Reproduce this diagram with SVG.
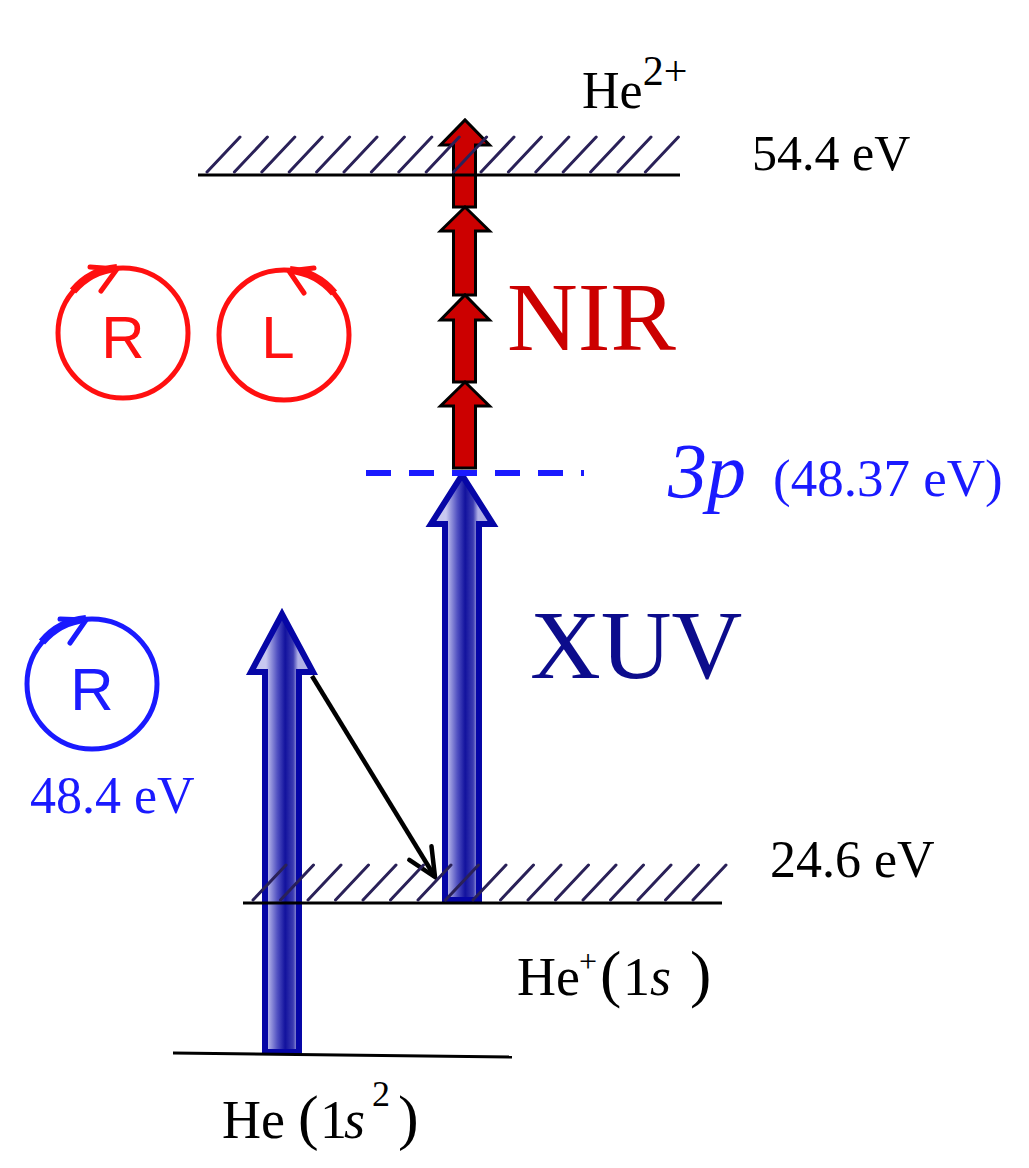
<svg xmlns="http://www.w3.org/2000/svg" width="1029" height="1168" viewBox="0 0 1029 1168">
<style>
.lvl{stroke:#000;stroke-width:3;fill:none}
.hatch{stroke:#2a2158;stroke-width:3;fill:none;stroke-linecap:round}
.xuv{stroke:#0606a6;stroke-width:6;stroke-linejoin:miter}
.nir{fill:#cc0000;stroke:#000;stroke-width:3;stroke-linejoin:miter}
.serif{font-family:"Liberation Serif","Times New Roman",serif}
.sans{font-family:"Liberation Sans",Arial,sans-serif}
.polred{fill:none;stroke:#ff1010}
.polblue{fill:none;stroke:#1a1aff}
.blue{fill:#1a1aff}
</style>
<defs>
<linearGradient id="gL" gradientUnits="userSpaceOnUse" x1="266" y1="0" x2="298" y2="0">
<stop offset="0" stop-color="#c8c8f0"/>
<stop offset="0.35" stop-color="#5252c2"/>
<stop offset="0.6" stop-color="#12129e"/>
<stop offset="0.85" stop-color="#3c3cb2"/>
<stop offset="1" stop-color="#b0b0e6"/>
</linearGradient>
<linearGradient id="gR" href="#gL" gradientUnits="userSpaceOnUse" x1="446" y1="0" x2="478" y2="0"/>
<marker id="vhead" markerUnits="userSpaceOnUse" viewBox="0 0 34 34" refX="31" refY="17" markerWidth="34" markerHeight="34" orient="auto">
<path d="M3,4 L31,17 L3,30" fill="none" stroke="#000" stroke-width="4.5" stroke-linecap="round"/>
</marker>
</defs>
<rect width="1029" height="1168" fill="#fff"/>

<g id="connectors">
<path id="xuv-left" class="xuv" fill="url(#gL)" d="M265,1052 L265,672 L251,672 L282,614 L313,672 L299,672 L299,1052 Z"/>
<path id="xuv-right" class="xuv" fill="url(#gR)" d="M445,900 L445,524 L431,524 L462,475 L493,524 L479,524 L479,900 Z"/>
<g id="nir-arrows">
<path class="nir" d="M453.5,207 L453.5,145 L440.5,145 L465,120 L489.5,145 L475.5,145 L475.5,207 Z"/>
<path class="nir" d="M453.5,295 L453.5,231 L440.5,231 L465,207 L489.5,231 L475.5,231 L475.5,295 Z"/>
<path class="nir" d="M453.5,382 L453.5,320 L440.5,320 L465,295 L489.5,320 L475.5,320 L475.5,382 Z"/>
<path class="nir" d="M453.5,468 L453.5,406 L440.5,406 L465,382 L489.5,406 L475.5,406 L475.5,468 Z"/>
</g>
<line id="decay-arrow" x1="312" y1="676" x2="435" y2="877" stroke="#000" stroke-width="4.5" marker-end="url(#vhead)"/>
</g>

<g id="level-He2plus">
<line class="lvl" x1="198" y1="175" x2="680" y2="175"/>
<path class="hatch" d="M207,172l33,-35M234.4,172l33,-35M261.8,172l33,-35M289.2,172l33,-35M316.6,172l33,-35M344,172l33,-35M371.4,172l33,-35M398.8,172l33,-35M426.2,172l33,-35M453.6,172l33,-35M481,172l33,-35M508.4,172l33,-35M535.8,172l33,-35M563.2,172l33,-35M590.6,172l33,-35M618,172l33,-35M645.4,172l33,-35"/>
<text class="serif" x="582" y="108" font-size="52">He<tspan font-size="42" dy="-23">2+</tspan></text>
<text class="serif" x="752" y="170" font-size="50">54.4 eV</text>
</g>

<g id="level-Heplus">
<line class="lvl" x1="243" y1="903" x2="722" y2="903"/>
<path class="hatch" d="M253,900l33,-35M280.5,900l33,-35M308,900l33,-35M335.5,900l33,-35M363,900l33,-35M390.5,900l33,-35M418,900l33,-35M445.5,900l33,-35M473,900l33,-35M500.5,900l33,-35M528,900l33,-35M555.5,900l33,-35M583,900l33,-35M610.5,900l33,-35M638,900l33,-35M665.5,900l33,-35M693,900l33,-35"/>
<text class="serif" x="770" y="877" font-size="52">24.6 eV</text>
<text class="serif" y="995" font-size="54"><tspan x="517">He</tspan><tspan x="579" y="972" font-size="32">+</tspan><tspan x="600" y="995" font-size="64">(</tspan><tspan x="623">1</tspan><tspan x="650" font-style="italic">s</tspan><tspan x="690" font-size="64">)</tspan></text>
</g>

<g id="level-ground">
<line class="lvl" x1="173" y1="1053" x2="512" y2="1057"/>
<text class="serif" y="1138" font-size="54"><tspan x="222">He</tspan><tspan x="298" font-size="62">(</tspan><tspan x="320">1</tspan><tspan x="344" font-style="italic">s</tspan><tspan x="372" y="1106" font-size="36">2</tspan><tspan x="398" y="1138" font-size="62">)</tspan></text>
</g>

<g id="level-3p">
<line x1="366" y1="473" x2="584" y2="473" stroke="#1a1aff" stroke-width="6" stroke-dasharray="25 18"/>
<text class="serif blue" x="668" y="497" font-size="78" font-style="italic">3p</text>
<text class="serif blue" x="773" y="496" font-size="53">(48.37 eV)</text>
</g>

<g id="label-NIR">
<text class="serif" x="507" y="350" font-size="98" fill="#cc0000">NIR</text>
</g>

<g id="label-XUV">
<text class="serif" x="530" y="678" font-size="98" fill="#0c0c8c">XUV</text>
</g>

<g id="pol-R-red">
<circle class="polred" cx="123" cy="333" r="65" stroke-width="5"/>
<path class="polred" d="M73,291 A65,65 0 0 1 117,268" stroke-width="8"/>
<path class="polred" d="M90,267 L117,269 L101,291" stroke-width="5" stroke-linecap="round" stroke-linejoin="round"/>
<text class="sans" x="123" y="358" font-size="60" text-anchor="middle" fill="#ff1010">R</text>
</g>

<g id="pol-L-red">
<circle class="polred" cx="284" cy="335" r="65" stroke-width="5"/>
<path class="polred" d="M334,293 A65,65 0 0 0 290,270" stroke-width="8"/>
<path class="polred" d="M314,268 L289,271 L304,293" stroke-width="5" stroke-linecap="round" stroke-linejoin="round"/>
<text class="sans" x="278" y="358" font-size="60" text-anchor="middle" fill="#ff1010">L</text>
</g>

<g id="pol-R-blue">
<circle class="polblue" cx="92" cy="684" r="65" stroke-width="5"/>
<path class="polblue" d="M42,642 A65,65 0 0 1 86,619" stroke-width="8"/>
<path class="polblue" d="M60,619 L86,620 L70,643" stroke-width="5" stroke-linecap="round" stroke-linejoin="round"/>
<text class="sans blue" x="92" y="710" font-size="60" text-anchor="middle">R</text>
<text class="serif blue" x="30" y="813" font-size="52">48.4 eV</text>
</g>
</svg>
